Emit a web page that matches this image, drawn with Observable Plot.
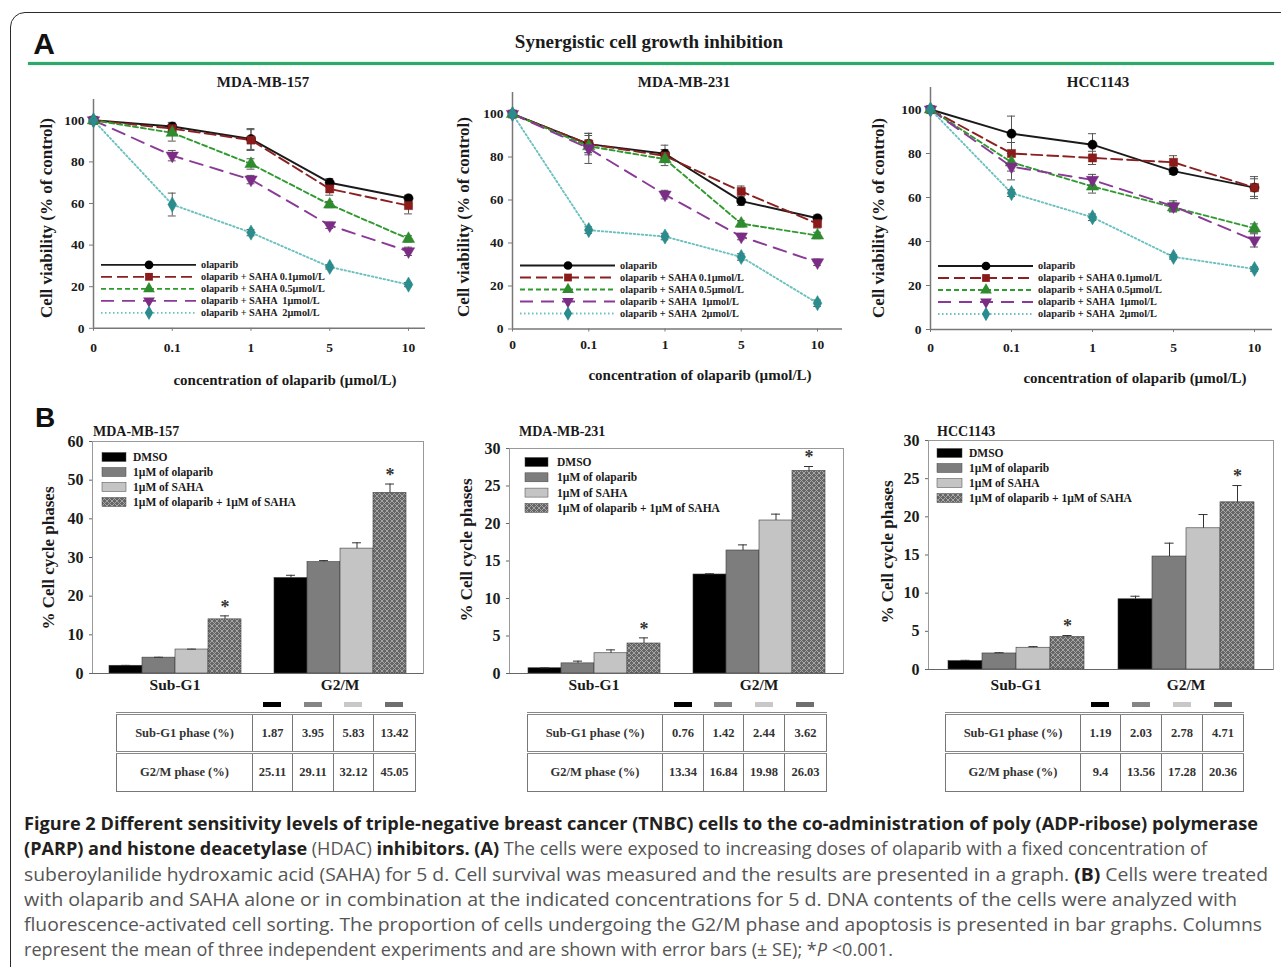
<!DOCTYPE html>
<html><head><meta charset="utf-8">
<script src="https://cdn.jsdelivr.net/npm/d3@7"></script>
<script src="https://cdn.jsdelivr.net/npm/@observablehq/plot@0.6"></script>
<style>
html,body{margin:0;padding:0;background:#fff;}
body{width:1281px;height:967px;overflow:hidden;position:relative;font-family:"Liberation Serif",serif;color:#1a1a1a;}
#root{position:absolute;left:0;top:0;width:1281px;height:967px;}
.border{position:absolute;left:10px;top:12px;width:1330px;height:1010px;border:1.6px solid #2a2a2a;border-radius:15px;}
.lbl{position:absolute;white-space:nowrap;font-weight:bold;line-height:1;}
table.t{position:absolute;border-collapse:collapse;table-layout:fixed;font-family:"Liberation Serif",serif;font-weight:bold;font-size:12.5px;color:#333;}
table.t td{border:1px solid #777;text-align:center;height:39px;padding:0;box-sizing:border-box;}
table.t tr.r1 td{border-top:3px double #888;}
table.t tr.r2 td{border-top:3px double #888;}
.cap{position:absolute;left:24px;white-space:nowrap;font-family:"Open Sans",sans-serif;font-size:18px;line-height:1;color:#555;transform-origin:0 0;display:inline-block;}
.cap b{color:#231f20;font-weight:700;}
</style></head><body>
<div id="root"><div class="border"></div></div>
<script>
// ---------------- DATA ----------------
const concLabels = ["0", "0.1", "1", "5", "10"];
const seriesNames = ["olaparib", "olaparib + SAHA 0.1\u00b5mol/L", "olaparib + SAHA 0.5\u00b5mol/L", "olaparib + SAHA  1\u00b5mol/L", "olaparib + SAHA  2\u00b5mol/L"];
const cellLines = ["MDA-MB-157", "MDA-MB-231", "HCC1143"];

// Panel A: cell viability (% of control), one row per series
const via157 = [[100, 97, 91, 70, 62.5], [100, 96, 90.5, 67, 59], [100, 94, 79, 59.5, 43], [100, 83, 71.5, 49.5, 37], [100, 59.5, 46, 29.5, 21]];
const err157 = [[0, 2, 5, 2, 1.5], [0, 2, 5, 3, 4], [0, 4, 2.5, 1.5, 1.5], [0, 2.5, 2, 1.5, 2], [0, 5.5, 1.5, 1, 1]];
const via231 = [[100, 86, 81.5, 59.5, 51.5], [100, 86, 80.5, 64, 49], [100, 85, 79, 49, 43.5], [100, 84, 62.5, 43, 31], [100, 46, 43, 33.5, 12]];
const err231 = [[0, 5, 4, 2, 1.5], [0, 4, 3, 2.5, 2], [0, 3, 3, 1.5, 1.5], [0, 7, 2, 1.5, 1.5], [0, 1.5, 1.5, 1.5, 1.5]];
const via1143 = [[100, 89, 84, 72, 64.5], [100, 80, 78, 76, 64.5], [100, 76, 65, 55.5, 46], [100, 74, 68, 56, 40.5], [100, 62, 51, 33, 27.5]];
const err1143 = [[0, 8, 5, 1.5, 4], [0, 5, 3, 3, 5], [0, 4, 3, 2, 2], [0, 6, 2.5, 2.5, 3], [0, 1.5, 1.5, 1, 1]];

// Panel B: % cell cycle phases
const phases = ["Sub-G1", "G2/M"];
const treatments = ["DMSO", "1\u00b5M of olaparib", "1\u00b5M of SAHA", "1\u00b5M of olaparib + 1\u00b5M of SAHA"];
const sub157 = [2.0, 4.1, 6.2, 14.0], subErr157 = [0.1, 0.1, 0.1, 0.9];
const g2m157 = [24.7, 28.8, 32.3, 46.7], g2mErr157 = [0.7, 0.4, 1.5, 2.3];
const sub231 = [0.7, 1.35, 2.7, 4.0], subErr231 = [0.05, 0.3, 0.45, 0.75];
const g2m231 = [13.2, 16.4, 20.4, 27.0], g2mErr231 = [0.1, 0.75, 0.85, 0.6];
const sub1143 = [1.1, 2.1, 2.85, 4.25], subErr1143 = [0.1, 0.1, 0.15, 0.2];
const g2m1143 = [9.2, 14.8, 18.5, 21.9], g2mErr1143 = [0.4, 1.75, 1.8, 2.2];

// Tables
const tableRowLabels = ["Sub-G1 phase (%)", "G2/M phase (%)"];
const tab157 = [["1.87", "3.95", "5.83", "13.42"], ["25.11", "29.11", "32.12", "45.05"]];
const tab231 = [["0.76", "1.42", "2.44", "3.62"], ["13.34", "16.84", "19.98", "26.03"]];
const tab1143 = [["1.19", "2.03", "2.78", "4.71"], ["9.4", "13.56", "17.28", "20.36"]];

// ---------------- STYLES ----------------
const lineColors = ["#1a1a1a", "#8b2020", "#2f9a2f", "#8a3a96", "#6cc0c0"];
const markerColors = ["#000000", "#8b1a1a", "#2e8b2e", "#7b2d86", "#2a8c8c"];
const dashes = [undefined, "11,5", "5,3", "13,8", "1.5,2.5"];
const triDown = {draw(ctx, size) {
  const y = -Math.sqrt(size / (Math.sqrt(3) * 3)), s3 = Math.sqrt(3);
  ctx.moveTo(0, -y * 2); ctx.lineTo(-s3 * y, y); ctx.lineTo(s3 * y, y); ctx.closePath();
}};
const symbols = [d3.symbolCircle, d3.symbolSquare, d3.symbolTriangle, triDown, d3.symbolDiamond];
const barColors = ["#000000", "#7d7d7d", "#c4c4c4", null];
const swatchColors = ["#000000", "#858585", "#c8c8c8", "#6e6e6e"];

const root = document.getElementById("root");
function place(node, left, top, w) {
  const d = document.createElement("div");
  d.style.cssText = `position:absolute;left:${left}px;top:${top}px;width:${w}px;`;
  d.appendChild(node); root.appendChild(d);
}
function label(text, x, y, size, opts = {}) {
  const d = document.createElement("div");
  d.className = "lbl";
  d.textContent = text;
  const tr = opts.left ? "translate(0,-50%)" : "translate(-50%,-50%)";
  d.style.cssText = `left:${x}px;top:${y}px;font-size:${size}px;transform:${tr}${opts.rot ? " rotate(-90deg)" : ""};font-family:${opts.font || '"Liberation Serif",serif'};color:${opts.color || "#1a1a1a"};`;
  root.appendChild(d);
}
const plotStyle = {fontFamily: '"Liberation Serif", serif', fontWeight: "bold", color: "#1a1a1a", background: "transparent", overflow: "visible"};

// ---------------- HEADER ----------------
label("A", 44, 44, 30, {font: '"Liberation Sans",sans-serif', color: "#111"});
label("Synergistic cell growth inhibition", 649, 41, 19);
{
  const g = document.createElement("div");
  g.style.cssText = "position:absolute;left:28px;top:62px;width:1246px;height:3px;background:#2fa86c;box-shadow:0 0 2px #9fe0bf;";
  root.appendChild(g);
}
label("B", 45, 418, 28, {font: '"Liberation Sans",sans-serif', color: "#111"});

// ---------------- PANEL A ----------------
const lineLayouts = [
  {x0: 93, x4: 408, xEnd: 425, y0: 328, y100: 120, xPad: 11, title: [263, 82], xl: [285, 380], yl: [46, 218]},
  {x0: 512, x4: 817, xEnd: 842, y0: 328, y100: 113, xPad: 7, title: [684, 82], xl: [700, 375], yl: [463, 217]},
  {x0: 930, x4: 1254, xEnd: 1272, y0: 329, y100: 109, xPad: 10, title: [1098, 82], xl: [1135, 378], yl: [878, 218]}
];
const lineData = [[via157, err157], [via231, err231], [via1143, err1143]];
const legA = {x1: 8, x2: 103, xm: 56, xt: 108, y0: -63, dy: 12};

function lineChart(L, vals, errs) {
  const padL = 60, padR = 12, padT = 14, padB = 34;
  const step = (L.x4 - L.x0) / 4, xMax = 4 + (L.xEnd - L.x4) / step;
  const yTop = L.y0 - 1.1 * (L.y0 - L.y100);
  const left = L.x0 - padL, top = yTop - padT;
  const width = L.xEnd + padR - left, height = L.y0 + padB - top;
  const rows = [];
  vals.forEach((s, si) => s.forEach((v, i) => rows.push({si, i, v, e: errs[si][i]})));
  const withErr = rows.filter(r => r.e > 0);
  const marks = [
    Plot.ruleY([0], {stroke: "#777", strokeWidth: 1.5}),
    Plot.ruleX([0], {stroke: "#777", strokeWidth: 1.5}),
    Plot.axisY({ticks: [0, 20, 40, 60, 80, 100], tickSize: 4, tickPadding: 5, fontSize: 13.5, label: null, stroke: "#777"}),
    Plot.axisX({ticks: [0, 1, 2, 3, 4], tickFormat: i => concLabels[i], tickSize: 3, tickPadding: L.xPad, fontSize: 13.5, label: null, stroke: "#777"})
  ];
  seriesNames.forEach((n, si) => {
    marks.push(Plot.line(rows.filter(r => r.si === si), {x: "i", y: "v", stroke: lineColors[si], strokeWidth: 1.9, strokeDasharray: dashes[si]}));
  });
  marks.push(Plot.ruleX(withErr, {x: "i", y1: r => r.v - r.e, y2: r => r.v + r.e, stroke: "#555", strokeWidth: 1}));
  marks.push(Plot.ruleY(withErr, {y: r => r.v + r.e, x1: r => r.i - 0.05, x2: r => r.i + 0.05, stroke: "#555", strokeWidth: 1}));
  marks.push(Plot.ruleY(withErr, {y: r => r.v - r.e, x1: r => r.i - 0.05, x2: r => r.i + 0.05, stroke: "#555", strokeWidth: 1}));
  seriesNames.forEach((n, si) => {
    marks.push(Plot.dot(rows.filter(r => r.si === si), {x: "i", y: "v", symbol: symbols[si], r: 4.6, fill: markerColors[si], stroke: markerColors[si], strokeWidth: 0.5}));
  });
  // legend
  marks.push((index, scales, values, dims) => {
    const g = d3.create("svg:g").attr("text-anchor", "start");
    const ox = dims.marginLeft, oy = dims.height - dims.marginBottom;
    seriesNames.forEach((name, k) => {
      const y = oy + legA.y0 + legA.dy * k;
      g.append("line").attr("x1", ox + legA.x1).attr("x2", ox + legA.x2).attr("y1", y).attr("y2", y)
        .attr("stroke", lineColors[k]).attr("stroke-width", 1.8).attr("stroke-dasharray", dashes[k] || null);
      g.append("path").attr("transform", `translate(${ox + legA.xm},${y})`).attr("d", d3.symbol(symbols[k], 60)()).attr("fill", markerColors[k]);
      g.append("text").attr("x", ox + legA.xt).attr("y", y).attr("dy", "0.32em").attr("text-anchor", "start")
        .attr("font-size", 10.3).attr("fill", "#222").style("white-space", "pre").text(name);
    });
    return g.node();
  });
  const p = Plot.plot({
    width, height, marginLeft: padL, marginRight: padR, marginTop: padT, marginBottom: padB,
    x: {domain: [0, xMax]}, y: {domain: [0, 110]}, style: plotStyle, marks
  });
  place(p, left, top, width);
}
lineLayouts.forEach((L, k) => {
  lineChart(L, lineData[k][0], lineData[k][1]);
  label(cellLines[k], L.title[0], L.title[1], 15);
  label("concentration of olaparib (\u00b5mol/L)", L.xl[0], L.xl[1], 15);
  label("Cell viability (% of control)", L.yl[0], L.yl[1], 17, {rot: true});
});

// ---------------- PANEL B ----------------
const barLayouts = [
  {fl: 92, fr: 423, ft: 441, fb: 673, yMax: 60, ticks: [0, 10, 20, 30, 40, 50, 60], po: 0.45, title: [93, 432], yl: [48, 558], catDy: 12, leg: {x1: 10, w: 24, xt: 41, y0: 16, dy: 15}},
  {fl: 509, fr: 843, ft: 448, fb: 673, yMax: 30, ticks: [0, 5, 10, 15, 20, 25, 30], po: 0.52, title: [519, 432], yl: [466, 550], catDy: 12, leg: {x1: 16, w: 23, xt: 48, y0: 14, dy: 15.3}},
  {fl: 928, fr: 1273, ft: 440, fb: 669, yMax: 30, ticks: [0, 5, 10, 15, 20, 25, 30], po: 0.5, title: [937, 432], yl: [887, 552], catDy: 16, leg: {x1: 9, w: 25, xt: 41, y0: 13, dy: 15}}
];
const barData = [[sub157, subErr157, g2m157, g2mErr157], [sub231, subErr231, g2m231, g2mErr231], [sub1143, subErr1143, g2m1143, g2mErr1143]];

function barChart(B, data, id) {
  const [sub, subE, g2m, g2mE] = data;
  const padL = 50, padR = 10, padT = 10, padB = 30;
  const left = B.fl - padL, top = B.ft - padT;
  const width = B.fr + padR - left, height = B.fb + padB - top;
  const keys = [];
  phases.forEach((p, pi) => { treatments.forEach(t => keys.push(p + "|" + t)); if (pi === 0) keys.push("gap"); });
  const rows = [];
  [[sub, subE], [g2m, g2mE]].forEach(([vals, errs], pi) => vals.forEach((v, ti) => rows.push({key: phases[pi] + "|" + treatments[ti], pi, ti, v, e: errs[ti]})));
  const fills = barColors.map(c => c || `url(#${id})`);
  const marks = [];
  marks.push(() => {
    const s = d3.create("svg:defs");
    const p = s.append("pattern").attr("id", id).attr("patternUnits", "userSpaceOnUse").attr("width", 5).attr("height", 5);
    p.append("rect").attr("width", 5).attr("height", 5).attr("fill", "#666");
    p.append("path").attr("d", "M0,0L5,5M5,0L0,5M-1,4L1,6M4,-1L6,1M4,6L6,4M-1,1L1,-1").attr("stroke", "#ababab").attr("stroke-width", 0.9);
    return s.node();
  });
  treatments.forEach((t, ti) => {
    marks.push(Plot.barY(rows.filter(r => r.ti === ti), {x: "key", y: "v", fill: fills[ti], stroke: "#3a3a3a", strokeWidth: 0.6}));
  });
  marks.push(Plot.ruleX(rows, {x: "key", y1: "v", y2: r => r.v + r.e, stroke: "#333", strokeWidth: 1}));
  const capInset = ((B.fr - B.fl) / (9 + 2 * B.po)) * 0.36;
  marks.push(Plot.tickY(rows, {x: "key", y: r => r.v + r.e, stroke: "#333", strokeWidth: 1, insetLeft: capInset, insetRight: capInset}));
  marks.push(Plot.text(rows.filter(r => r.ti === 3), {x: "key", y: r => r.v + r.e, text: () => "*", dy: -9, fontSize: 18, fill: "#333"}));
  marks.push(Plot.frame({stroke: "#999", strokeWidth: 1}));
  marks.push(Plot.ruleY([0], {stroke: "#666", strokeWidth: 1}));
  marks.push(Plot.axisY({ticks: B.ticks, tickSize: 3, tickPadding: 6, fontSize: 16, label: null, stroke: "#666"}));
  // group labels
  marks.push((index, scales, values, dims) => {
    const g = d3.create("svg:g");
    const x = scales.x;
    const stepPx = x(keys[1]) - x(keys[0]);
    const yb = dims.height - dims.marginBottom + B.catDy;
    phases.forEach((p, pi) => {
      const first = x(p + "|" + treatments[0]), last = x(p + "|" + treatments[3]);
      g.append("text").attr("x", (first + last + stepPx) / 2).attr("y", yb).attr("dy", "0.35em").attr("text-anchor", "middle").attr("font-size", 15.5).attr("fill", "#1a1a1a").text(p);
    });
    return g.node();
  });
  // legend
  marks.push((index, scales, values, dims) => {
    const g = d3.create("svg:g").attr("text-anchor", "start");
    const ox = dims.marginLeft, oy = dims.marginTop, L = B.leg;
    treatments.forEach((t, k) => {
      const y = oy + L.y0 + L.dy * k;
      g.append("rect").attr("x", ox + L.x1).attr("y", y - 4.5).attr("width", L.w).attr("height", 9).attr("fill", fills[k]).attr("stroke", "#444").attr("stroke-width", 0.5);
      g.append("text").attr("x", ox + L.xt).attr("y", y).attr("dy", "0.35em").attr("text-anchor", "start").attr("font-size", 11.5).attr("fill", "#1a1a1a").text(t);
    });
    return g.node();
  });
  const p = Plot.plot({
    width, height, marginLeft: padL, marginRight: padR, marginTop: padT, marginBottom: padB,
    x: {type: "band", domain: keys, paddingInner: 0, paddingOuter: B.po, axis: null},
    y: {domain: [0, B.yMax]}, style: plotStyle, marks
  });
  place(p, left, top, width);
}
barLayouts.forEach((B, k) => {
  barChart(B, barData[k], "hatch" + k);
  label(cellLines[k], B.title[0], B.title[1], 14, {left: true});
  label("% Cell cycle phases", B.yl[0], B.yl[1], 17, {rot: true});
});

// ---------------- TABLES ----------------
const tableLayouts = [
  {cols: [116, 252, 292, 333, 373, 415]},
  {cols: [527, 662, 703, 743, 784, 826]},
  {cols: [945, 1080, 1120, 1161, 1202, 1243]}
];
const tableData = [tab157, tab231, tab1143];
tableLayouts.forEach((T, k) => {
  const c = T.cols;
  for (let j = 0; j < 4; j++) {
    const s = document.createElement("div");
    const cx = (c[j + 1] + c[j + 2]) / 2;
    s.style.cssText = `position:absolute;left:${cx - 9}px;top:702px;width:18px;height:5px;background:${swatchColors[j]};`;
    root.appendChild(s);
  }
  const tbl = document.createElement("table");
  tbl.className = "t";
  tbl.style.left = c[0] + "px"; tbl.style.top = "712px"; tbl.style.width = (c[5] - c[0]) + "px";
  const cg = document.createElement("colgroup");
  for (let j = 0; j < 5; j++) { const col = document.createElement("col"); col.style.width = (c[j + 1] - c[j]) + "px"; cg.appendChild(col); }
  tbl.appendChild(cg);
  tableRowLabels.forEach((lab, r) => {
    const tr = document.createElement("tr");
    tr.className = "r" + (r + 1);
    const td0 = document.createElement("td"); td0.textContent = lab; tr.appendChild(td0);
    tableData[k][r].forEach(v => { const td = document.createElement("td"); td.textContent = v; tr.appendChild(td); });
    tbl.appendChild(tr);
  });
  root.appendChild(tbl);
});

// ---------------- CAPTION ----------------
const captionLines = [
  {html: "<b>Figure 2 Different sensitivity levels of triple-negative breast cancer (TNBC) cells to the co-administration of poly (ADP-ribose) polymerase</b>", base: 828, w: 1234},
  {html: "<b>(PARP) and histone deacetylase</b> (HDAC) <b>inhibitors.</b> <b>(A)</b> The cells were exposed to increasing doses of olaparib with a fixed concentration of", base: 853, w: 1183},
  {html: "suberoylanilide hydroxamic acid (SAHA) for 5 d. Cell survival was measured and the results are presented in a graph. <b>(B)</b> Cells were treated", base: 879, w: 1244},
  {html: "with olaparib and SAHA alone or in combination at the indicated concentrations for 5 d. DNA contents of the cells were analyzed with", base: 904, w: 1213},
  {html: "fluorescence-activated cell sorting. The proportion of cells undergoing the G2/M phase and apoptosis is presented in bar graphs. Columns", base: 929, w: 1238},
  {html: "represent the mean of three independent experiments and are shown with error bars (\u00b1 SE); *<i>P</i> &lt;0.001.", base: 954, w: 869}
];
const capEls = captionLines.map(L => {
  const s = document.createElement("span");
  s.className = "cap"; s.innerHTML = L.html;
  s.style.top = (L.base - 14.5) + "px";
  s.dataset.w = L.w;
  root.appendChild(s);
  return s;
});
function fit() {
  capEls.forEach(el => {
    el.style.transform = "none";
    const w = el.getBoundingClientRect().width;
    el.style.transform = `scaleX(${(+el.dataset.w) / w})`;
  });
}
fit();
if (document.fonts && document.fonts.ready) document.fonts.ready.then(fit);
</script>
</body></html>
